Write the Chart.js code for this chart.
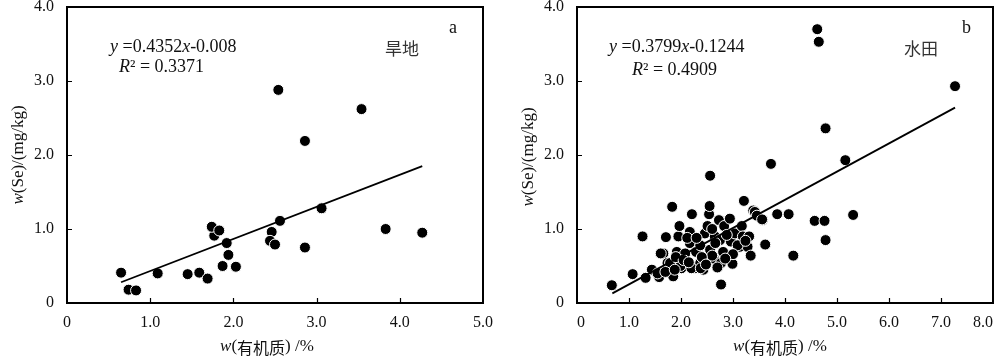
<!DOCTYPE html>
<html><head><meta charset="utf-8">
<script src="https://cdn.jsdelivr.net/npm/chart.js@4"></script>
<style>
html,body{margin:0;padding:0;background:#fff;}
#wrap{position:relative;width:1000px;height:357px;overflow:hidden;}
canvas{position:absolute;top:0;}
</style></head>
<body><div id="wrap"><canvas id="c1" width="500" height="357" style="left:0"></canvas><canvas id="c2" width="500" height="357" style="left:500px"></canvas></div>
<script>
// ---- data ----
const dryX = [0.65,0.74,0.83,1.09,1.45,1.59,1.69,1.87,2.03,1.94,1.92,1.77,1.74,1.83,2.46,2.44,2.50,2.56,2.54,2.86,2.86,3.06,3.54,3.83,4.27];
const dryY = [0.41,0.18,0.17,0.40,0.39,0.41,0.33,0.50,0.49,0.65,0.81,0.91,1.03,0.98,0.96,0.84,0.79,1.11,2.88,2.19,0.75,1.28,2.62,1.00,0.95];
const dryTrendX = [0.65,4.27];
const dryTrendY = [0.28,1.85];

const paddyX = [4.62,4.65,7.27,4.78,5.16,3.73,2.56,5.31,4.57,4.76,4.78,4.16,4.07,3.85,3.62,3.57,3.44,3.39,3.21,2.77,0.67,1.07,1.26,1.83,2.21,1.71,
  1.44,1.32,1.58,1.66,1.85,1.74,1.95,1.97,1.92,1.93,2.01,2.08,2.17,2.17,2.29,2.27,2.37,2.43,2.37,2.46,2.51,2.54,2.55,2.56,2.53,2.63,2.65,2.73,2.75,2.77,2.83,2.81,2.94,2.96,2.99,3.04,3.13,3.17,3.19,3.28,3.31,3.34,3.42,3.46,3.56,
  1.61,1.79,1.99,2.20,2.38,2.66,2.60,3.09,1.90,2.05,2.12,2.30,2.40,2.48,2.70,2.88,3.00,3.24,1.55,1.70,1.88,2.15,2.60,2.85];
const paddyY = [3.70,3.53,2.93,2.36,1.93,1.88,1.72,1.19,1.11,1.11,0.85,0.64,1.20,1.20,0.79,1.12,1.19,1.25,1.38,0.25,0.24,0.39,0.90,1.30,1.20,0.89,
  0.45,0.34,0.35,0.67,0.36,0.54,0.90,1.04,0.69,0.54,0.47,0.67,0.96,0.81,0.69,0.47,0.54,0.45,0.78,0.94,1.04,1.20,1.31,0.72,0.58,0.60,0.90,1.12,0.85,0.54,1.04,0.69,1.14,0.83,0.53,0.94,0.76,1.04,0.90,0.76,0.90,0.64,1.23,1.18,1.13,
  0.67,0.54,0.50,0.47,0.47,0.81,0.64,0.78,0.62,0.58,0.88,0.88,0.62,0.52,0.48,0.92,0.66,0.84,0.40,0.42,0.45,0.55,1.00,0.60];
const paddyTrendX = [0.68,7.27];
const paddyTrendY = [0.13,2.64];

const yTickLabels = ['0','1.0','2.0','3.0','4.0'];
const xTickLabelsDry = ['0','1.0','2.0','3.0','4.0','5.0'];
const xTickLabelsPaddy = ['0','1.0','2.0','3.0','4.0','5.0','6.0','7.0','8.0'];

const SERIF = '"Liberation Serif","Times New Roman",serif';
const CJK = '"Noto Sans CJK SC","Noto Sans CJK JP",sans-serif';

function pts(xs, ys){ return xs.map((x,i)=>({x:x,y:ys[i]})); }

function drawRich(ctx, parts, x, y, size){
  let cx = x;
  ctx.textBaseline = 'middle';
  ctx.textAlign = 'left';
  for (const p of parts){
    ctx.font = (p[1]?'italic ':'') + size + 'px ' + SERIF;
    ctx.fillText(p[0], cx, y);
    cx += ctx.measureText(p[0]).width;
  }
  return cx - x;
}
function richWidth(ctx, parts, size){
  let w = 0;
  for (const p of parts){ ctx.font = (p[1]?'italic ':'') + size + 'px ' + SERIF; w += ctx.measureText(p[0]).width; }
  return w;
}

function makeChart(id, xs, ys, tx, ty, xmax, xLabels, yAxisW, padRight, xAlign, ann){
  const decor = {
    id: 'decor',
    afterDraw(chart){
      const ctx = chart.ctx, a = chart.chartArea;
      const xs_ = chart.scales.x, ys_ = chart.scales.y;
      ctx.save();
      ctx.strokeStyle = '#000';
      ctx.lineWidth = 2;
      ctx.strokeRect(a.left, a.top, a.right - a.left, a.bottom - a.top);
      ctx.lineWidth = 1.2;
      ctx.beginPath();
      for (let v = 1; v < 4; v++){
        const py = Math.round(ys_.getPixelForValue(v)) + 0.5;
        ctx.moveTo(a.left, py); ctx.lineTo(a.left + 5, py);
      }
      for (let v = 1; v < xmax; v++){
        const px = Math.round(xs_.getPixelForValue(v)) + 0.5;
        ctx.moveTo(px, a.bottom); ctx.lineTo(px, a.bottom - 5);
      }
      ctx.stroke();
      ctx.fillStyle = '#111';
      ctx.save();
      ctx.translate(ann.yTitleX, ann.yTitleY);
      ctx.rotate(-Math.PI/2);
      const yParts = [['w',true],['(Se)/(mg/kg)',false]];
      const yw = richWidth(ctx, yParts, 17);
      drawRich(ctx, yParts, -yw/2, 0, 17);
      ctx.restore();
      ctx.textBaseline = 'middle';
      ctx.font = 'italic 17px ' + SERIF;
      const w1 = ctx.measureText('w').width;
      ctx.font = '17px ' + SERIF;
      const w2 = ctx.measureText('(').width;
      ctx.font = '16px ' + CJK;
      const w3 = ctx.measureText('有机质').width;
      ctx.font = '17px ' + SERIF;
      const w4 = ctx.measureText(') /%').width;
      let sx = ann.xTitleX - (w1+w2+w3+w4)/2;
      ctx.textAlign = 'left';
      ctx.font = 'italic 17px ' + SERIF; ctx.fillText('w', sx, ann.xTitleY); sx += w1;
      ctx.font = '17px ' + SERIF; ctx.fillText('(', sx, ann.xTitleY); sx += w2;
      ctx.font = '16px ' + CJK; ctx.fillText('有机质', sx, ann.xTitleY + 1); sx += w3;
      ctx.font = '17px ' + SERIF; ctx.fillText(') /%', sx, ann.xTitleY);
      drawRich(ctx, ann.eq, ann.eqX, ann.eqY, 18);
      drawRich(ctx, ann.r2, ann.r2X, ann.r2Y, 18);
      ctx.font = '17px ' + CJK;
      ctx.fillStyle = '#333';
      ctx.textAlign = 'left';
      ctx.fillText(ann.label, ann.labelX, ann.labelY);
      ctx.fillStyle = '#111';
      ctx.font = '18px ' + SERIF;
      ctx.fillText(ann.letter, ann.letterX, ann.letterY);
      ctx.restore();
    }
  };
  return new Chart(document.getElementById(id), {
    type: 'scatter',
    data: { datasets: [
      { type:'line', data: pts(tx, ty), borderColor:'#000', borderWidth:1.8, pointRadius:0, fill:false, order:0 },
      { data: pts(xs, ys), backgroundColor:'#000', borderColor:'#fff', borderWidth:1, pointRadius:5.5, pointHoverRadius:5.5, order:1 }
    ]},
    options: {
      responsive:false, animation:false, devicePixelRatio:1,
      layout:{ padding:{ left:0, right:padRight, top:7, bottom:0 } },
      plugins:{ legend:{display:false}, tooltip:{enabled:false} },
      scales:{
        x:{ type:'linear', min:0, max:xmax,
            grid:{display:false, drawTicks:false}, border:{display:false},
            ticks:{ stepSize:1, padding:10, align:xAlign, color:'#111', font:{family:SERIF, size:16},
                    callback:(v,i)=> xLabels[i] },
            afterFit:(s)=>{ s.height = 54; s.paddingLeft = 0; s.paddingRight = 0; } },
        y:{ type:'linear', min:0, max:4,
            grid:{display:false, drawTicks:false}, border:{display:false},
            ticks:{ stepSize:1, padding:13, color:'#111', font:{family:SERIF, size:16},
                    callback:(v,i)=> yTickLabels[i] },
            afterFit:(s)=>{ s.width = yAxisW; s.paddingTop = 0; s.paddingBottom = 0; } }
      }
    },
    plugins:[decor]
  });
}

makeChart('c1', dryX, dryY, dryTrendX, dryTrendY, 5, xTickLabelsDry, 67, 17, 'center', {
  yTitleX: 19, yTitleY: 155, xTitleX: 267, xTitleY: 347,
  eq: [['y',true],[' =0.4352',false],['x',true],['-0.008',false]], eqX: 110, eqY: 47,
  r2: [['R',true],['² = 0.3371',false]], r2X: 119, r2Y: 67,
  label: '旱地', labelX: 385, labelY: 49, letter: 'a', letterX: 449, letterY: 28
});
makeChart('c2', paddyX, paddyY, paddyTrendX, paddyTrendY, 8, xTickLabelsPaddy, 77, 7, 'inner', {
  yTitleX: 29, yTitleY: 157, xTitleX: 280, xTitleY: 347,
  eq: [['y',true],[' =0.3799',false],['x',true],['-0.1244',false]], eqX: 109, eqY: 47,
  r2: [['R',true],['² = 0.4909',false]], r2X: 132, r2Y: 70,
  label: '水田', labelX: 404, labelY: 49, letter: 'b', letterX: 462, letterY: 28
});
</script></body></html>
